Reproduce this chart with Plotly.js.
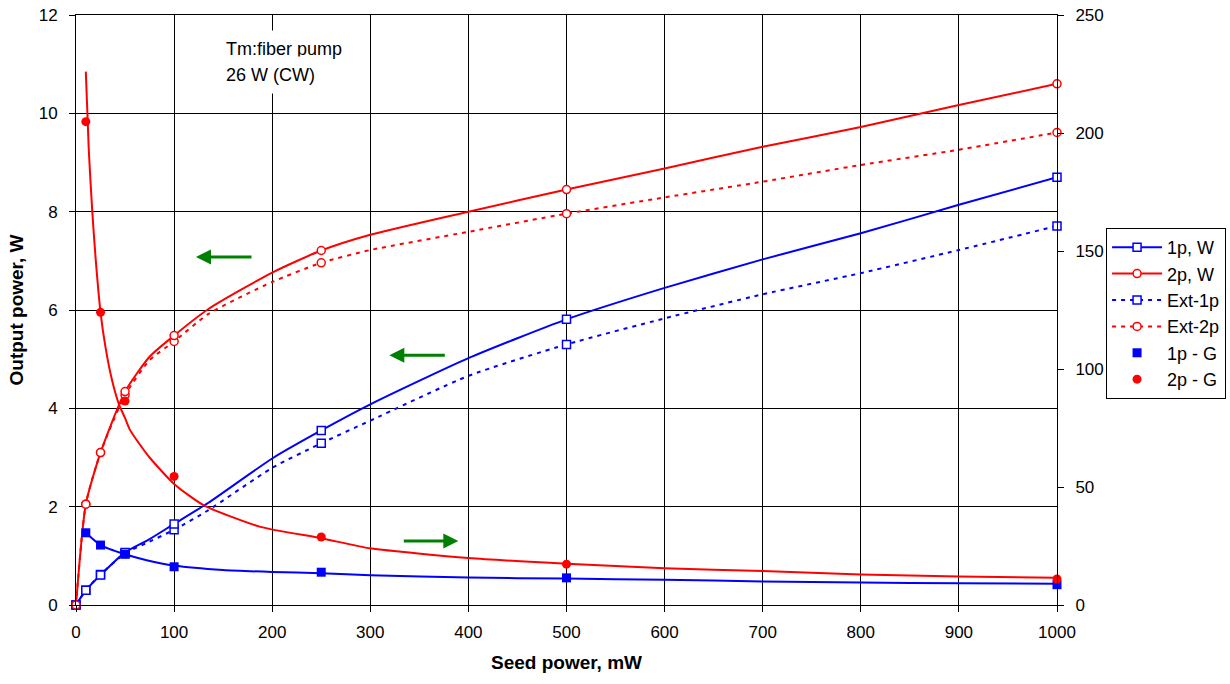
<!DOCTYPE html>
<html>
<head>
<meta charset="utf-8">
<script src="https://cdn.plot.ly/plotly-3.0.1.min.js"></script>
<style>html,body{margin:0;padding:0;background:#fff;}#chart{width:1230px;height:684px;}</style>
</head>
<body>
<div id="chart"></div>
<script>
// Measured points (seed power, mW)
const seedX = [0, 10, 25, 50, 100, 250, 500, 1000];
const p1W   = [0, 0.30, 0.61, 1.07, 1.65, 3.55, 5.81, 8.70];
const p2W   = [0, 2.05, 3.10, 4.34, 5.48, 7.21, 8.45, 10.60];
const ext1W = [0, 0.30, 0.62, 1.05, 1.53, 3.29, 5.30, 7.71];
const ext2W = [0, 2.05, 3.10, 4.27, 5.36, 6.96, 7.96, 9.61];

// Gain points (right axis)
const gX  = [10, 25, 50, 100, 250, 500, 1000];
const g1  = [30.6, 25.4, 21.5, 16.2, 13.9, 11.5, 8.6];
const g2  = [204.8, 124.0, 86.4, 54.5, 28.8, 17.3, 11.0];

// Smoothed curves
const curveX    = [0, 10, 25, 50, 75, 100, 135, 200, 250, 300, 400, 500, 600, 700, 800, 900, 1000];
const p1Curve   = [0, 0.30, 0.61, 1.07, 1.34, 1.65, 2.08, 2.98, 3.55, 4.08, 5.02, 5.81, 6.45, 7.03, 7.56, 8.14, 8.70];
const ext1Curve = [0, 0.30, 0.62, 1.05, 1.29, 1.53, 1.93, 2.79, 3.29, 3.75, 4.66, 5.30, 5.83, 6.32, 6.75, 7.22, 7.71];
const p2Curve   = [0, 2.05, 3.10, 4.34, 5.05, 5.48, 6.02, 6.76, 7.21, 7.53, 8.00, 8.45, 8.88, 9.32, 9.72, 10.17, 10.60];
const ext2Curve = [0, 2.05, 3.10, 4.27, 4.98, 5.36, 5.92, 6.57, 6.96, 7.22, 7.59, 7.96, 8.29, 8.61, 8.95, 9.26, 9.61];

const g1CurveX = [10, 25, 50, 72, 100, 150, 200, 250, 300, 400, 500, 600, 700, 800, 900, 1000];
const g1Curve  = [30.6, 25.4, 21.5, 19.0, 16.7, 14.8, 14.0, 13.5, 12.6, 11.6, 11.2, 10.7, 10.0, 9.5, 9.2, 9.05];
const g2CurveX = [10, 13, 16.6, 20, 25, 30, 37, 44, 50, 55, 62, 75, 100, 130, 188, 250, 300, 400, 500, 600, 700, 800, 900, 1000];
const g2Curve  = [226.0, 193.1, 166.7, 146.9, 124.0, 109.4, 94.8, 84.8, 79.2, 74.2, 69.8, 62.5, 51.3, 42.3, 33.1, 28.3, 24.0, 19.9, 17.5, 15.6, 14.4, 12.9, 12.1, 11.5];

const names = ['1p, W', '2p, W', 'Ext-1p', 'Ext-2p', '1p - G', '2p - G'];
const xTicks = [0,100,200,300,400,500,600,700,800,900,1000];

const BLUE = '#0000FF', RED = '#FF0000', GREEN = '#008000';
const FONT = 'Liberation Sans, Arial, sans-serif';
const DOT = '4px,5px';

function curve(x, y, color, dash, yaxis) {
  return {x: x, y: y, mode: 'lines', yaxis: yaxis || 'y', showlegend: false, hoverinfo: 'skip',
          line: {color: color, width: 2, dash: dash || 'solid', shape: 'spline', smoothing: 0.6}};
}
function pts(x, y, color, symbol, open, yaxis) {
  return {x: x, y: y, mode: 'markers', yaxis: yaxis || 'y', showlegend: false, cliponaxis: false,
          marker: {symbol: symbol, size: open ? 8 : 9, color: open ? '#FFFFFF' : color,
                   line: {color: color, width: open ? 1.5 : 0}}};
}
function leg(name, color, symbol, dash) {
  return {x: [null], y: [null], name: name, mode: 'lines+markers',
          line: {color: color, width: 2, dash: dash},
          marker: {symbol: symbol, size: 8, color: '#FFFFFF', line: {color: color, width: 1.5}}};
}

const data = [
  curve(g1CurveX, g1Curve, BLUE, 'solid', 'y2'),
  curve(g2CurveX, g2Curve, RED, 'solid', 'y2'),
  curve(curveX, ext1Curve, BLUE, DOT),
  curve(curveX, ext2Curve, RED, DOT),
  curve(curveX, p1Curve, BLUE),
  curve(curveX, p2Curve, RED),
  pts(seedX, ext1W, BLUE, 'square', true),
  pts(seedX, ext2W, RED, 'circle', true),
  pts(seedX, p1W, BLUE, 'square', true),
  pts(seedX, p2W, RED, 'circle', true),
  leg(names[0], BLUE, 'square', 'solid'),
  leg(names[1], RED, 'circle', 'solid'),
  leg(names[2], BLUE, 'square', DOT),
  leg(names[3], RED, 'circle', DOT),
  {x: gX, y: g1, name: names[4], mode: 'markers', yaxis: 'y2', cliponaxis: false,
   marker: {symbol: 'square', size: 9, color: BLUE}},
  {x: gX, y: g2, name: names[5], mode: 'markers', yaxis: 'y2', cliponaxis: false,
   marker: {symbol: 'circle', size: 9, color: RED}}
];

const layout = {
  width: 1230, height: 684,
  margin: {l: 76, r: 173, t: 15, b: 79, pad: 0},
  paper_bgcolor: '#FFFFFF', plot_bgcolor: '#FFFFFF',
  font: {family: FONT, size: 17, color: '#000'},
  showlegend: true,
  legend: {xref: 'container', yref: 'container', x: 0.9968, xanchor: 'right', y: 0.6667, yanchor: 'top',
           bgcolor: '#FFFFFF', bordercolor: '#000', borderwidth: 1,
           font: {family: FONT, size: 18, color: '#000'}, traceorder: 'normal', itemwidth: 50},
  xaxis: {range: [0, 1000], tickvals: xTicks, showgrid: true, gridcolor: '#000', gridwidth: 1,
          showline: true, linecolor: '#000', linewidth: 1, mirror: true, zeroline: false,
          ticks: 'outside', ticklen: 6, tickcolor: '#000', ticklabelstandoff: 6,
          tickfont: {family: FONT, size: 17},
          title: {text: '<b>Seed power, mW</b>', font: {family: FONT, size: 19}, standoff: 14}},
  yaxis: {range: [0, 12], dtick: 2, showgrid: true, gridcolor: '#000', gridwidth: 1,
          showline: true, linecolor: '#000', linewidth: 1, zeroline: false,
          ticks: 'outside', ticklen: 6, tickcolor: '#000', ticklabelstandoff: 8,
          tickfont: {family: FONT, size: 17},
          title: {text: '<b>Output power, W</b>', font: {family: FONT, size: 19}, standoff: 10}},
  yaxis2: {range: [0, 250], dtick: 50, overlaying: 'y', side: 'right', showgrid: false,
           showline: true, linecolor: '#000', linewidth: 1, zeroline: false,
           ticks: 'outside', ticklen: 6, tickcolor: '#000', ticklabelstandoff: 8,
           tickfont: {family: FONT, size: 17}},
  annotations: [
    {x: 143.7, y: 11.31, xref: 'x', yref: 'y', text: 'Tm:fiber pump', showarrow: false,
     xanchor: 'left', yanchor: 'middle', align: 'left', bgcolor: '#FFFFFF', borderpad: 8,
     font: {family: FONT, size: 18, color: '#000'}},
    {x: 143.7, y: 10.78, xref: 'x', yref: 'y', text: '26 W (CW)', showarrow: false,
     xanchor: 'left', yanchor: 'middle', align: 'left', bgcolor: '#FFFFFF', borderpad: 8,
     font: {family: FONT, size: 18, color: '#000'}},
    {x: 122.3, y: 7.08, xref: 'x', yref: 'y', ax: 57, ay: 0, text: '', showarrow: true,
     arrowhead: 2, arrowsize: 1, arrowwidth: 3, arrowcolor: GREEN},
    {x: 319.4, y: 5.08, xref: 'x', yref: 'y', ax: 57, ay: 0, text: '', showarrow: true,
     arrowhead: 2, arrowsize: 1, arrowwidth: 3, arrowcolor: GREEN},
    {x: 389.7, y: 1.30, xref: 'x', yref: 'y', ax: -56, ay: 0, text: '', showarrow: true,
     arrowhead: 2, arrowsize: 1, arrowwidth: 3, arrowcolor: GREEN}
  ]
};

Plotly.newPlot('chart', data, layout, {displayModeBar: false, staticPlot: true});
</script>
</body>
</html>
